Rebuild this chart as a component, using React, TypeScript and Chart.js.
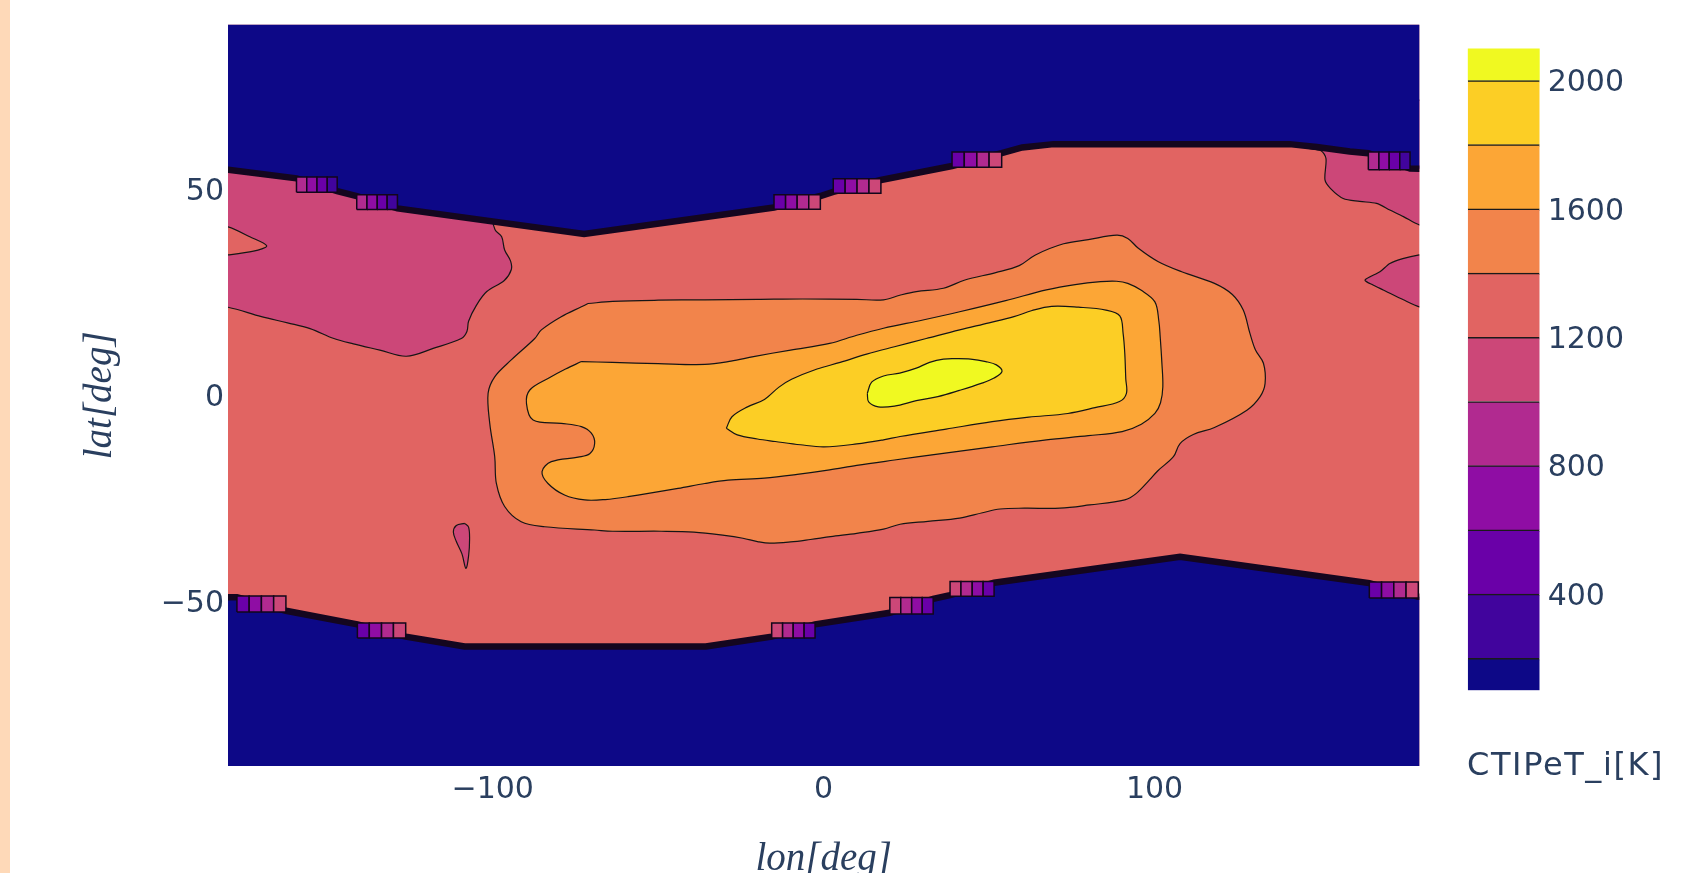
import React, { useEffect, useRef } from 'react';
import { Chart, registerables } from 'chart.js';

Chart.register(...registerables);

type Pt = [number, number];

// ---------- axes / scale values ----------
const LON_TICKS = [-100, 0, 100];
const LAT_TICKS = [-50, 0, 50];
const CBAR_TICKS = [400, 800, 1200, 1600, 2000];
const LEVELS = [100, 200, 400, 600, 800, 1000, 1200, 1400, 1600, 1800, 2000, 2100];
const BAND_COLORS = ['#0d0887', '#41049d', '#6a00a8', '#8f0da4', '#b12a90', '#cc4778', '#e16462', '#f2844b', '#fca636', '#fcce25', '#f0f921'];

// ---------- contour regions (lon, lat) ----------
const FULL_FIELD: Pt[] = [[-185, -95], [185, -95], [185, 95], [-185, 95]];

const PINK_NW: Pt[] = [
  [-185, 70], [-185, 21.6], [-180, 21.4], [-169.9, 19.1], [-162, 17.6], [-155.2, 16.2], [-148, 13.8],
  [-142.1, 12.5], [-134.1, 11.0], [-126.1, 9.5], [-118, 11.4], [-109.5, 13.8], [-107.8, 15.5],
  [-107.3, 18.0], [-104.9, 21.9], [-101.8, 25.2], [-96.5, 27.9], [-94.4, 30.5], [-94.6, 32.6],
  [-96.4, 35.3], [-97.3, 38.5], [-99.3, 40.2], [-100, 43], [-100, 70],
];
const SALMON_TONGUE: Pt[] = [
  [-185, 41.3], [-180, 40.9], [-173.4, 38.5], [-168.3, 36.3], [-172.3, 35.0], [-180, 34.1], [-185, 33.8],
];
const PINK_NE: Pt[] = [
  [145, 70], [145, 60.6], [150.3, 59.4], [151.8, 57.5], [151.5, 52.3], [153.2, 50.2], [157, 47.8],
  [162, 47.1], [167.1, 46.6], [171.1, 45.0], [175.2, 43.4], [180, 41.4], [185, 40.8], [185, 70],
];
const PINK_E: Pt[] = [
  [185, 34.5], [180, 34.1], [175, 33.2], [171.1, 32.0], [168.1, 30.0], [163.6, 28.0], [166, 26.8],
  [169.1, 25.6], [175.2, 23.2], [180, 21.5], [185, 21.0],
];
const PINK_SPOT: Pt[] = [
  [-108.5, -31.1], [-107.3, -32.0], [-107.0, -35.0], [-107.3, -39.0], [-108.1, -42.0], [-109.3, -38.5],
  [-111.0, -35.5], [-111.9, -33.2], [-111.0, -31.6],
];
const ORANGE_1400: Pt[] = [
  [-71.2, 22.3], [-63.8, 22.8], [-50, 23.1], [-35.9, 23.2], [-20, 23.3], [-6.4, 23.4], [10, 23.3],
  [18.1, 23.2], [23, 24.3], [28.0, 25.2], [36.2, 26.0], [42.7, 28.0], [52, 29.8], [59.1, 31.5],
  [64.0, 34.1], [72.5, 36.8], [80, 37.8], [88.6, 38.9], [91.9, 38.1], [95.1, 35.7], [101, 32.5],
  [108.2, 30.0], [118.1, 27.2], [123.5, 24.5], [126.8, 20.7], [128.8, 15.1], [130.5, 11], [132.9, 7.8],
  [133.4, 2.9], [131.9, -0.3], [127.9, -3.6], [118.1, -7.8], [111.7, -9.5], [107.7, -11.7], [105.7, -14.9],
  [101, -18.3], [98.4, -20.6], [94.5, -23.8], [91.0, -25.4], [80.4, -26.6], [71.4, -27.4], [60.7, -27.4],
  [53.3, -27.6], [48, -28.5], [41.1, -29.8], [31.5, -30.6], [23.1, -31.3], [18.1, -32.5], [10, -33.5],
  [2.1, -34.3], [-4, -35.0], [-10, -35.6], [-16.3, -35.9], [-20, -35.5], [-24.4, -34.7], [-30, -34.0],
  [-39.2, -33.2], [-49.1, -33.0], [-63.8, -33.0], [-69.2, -32.7], [-84.3, -31.9], [-91.4, -30.7],
  [-96.4, -27.0], [-98.9, -21.4], [-99.4, -14.9], [-100.9, -6.8], [-101.4, 0.5], [-99.4, 4.5],
  [-94.4, 8.6], [-87.3, 13.8], [-85.3, 15.9], [-79.3, 19.1], [-73.2, 21.5],
];
const ORANGE_1600: Pt[] = [
  [-73.2, 8.2], [-63.8, 8.0], [-50, 7.7], [-35.9, 7.5], [-28, 8.3], [-21.2, 9.4], [-10, 11.0], [1.8, 12.6],
  [10, 14.6], [18.1, 16.3], [30, 18.3], [41.1, 20.3], [55, 23.0], [67.3, 25.6], [76, 26.9], [83.7, 27.6],
  [88.5, 27.7], [91.9, 27.2], [96, 25.5], [100.1, 22.7], [101.3, 18], [101.7, 14.2], [102.2, 8],
  [102.5, 2.1], [101.8, -1.8], [100.1, -4.4], [96, -7.0], [90.2, -8.8], [80, -9.8], [67.3, -10.8],
  [50.9, -12.5], [35, -14.2], [21.4, -15.7], [10, -17.0], [1.8, -18.1], [-8, -19.2], [-17.9, -20.1],
  [-28.9, -20.6], [-35.9, -21.4], [-44.0, -22.6], [-59.1, -24.6], [-66, -25.3], [-72.2, -25.4],
  [-78.3, -24.2], [-83.3, -21.4], [-85.1, -18.5], [-82.3, -16.1], [-74.2, -15.0], [-70.7, -14.2],
  [-69.2, -11.7], [-70.2, -9.2], [-73.2, -7.6], [-79.3, -6.8], [-87.8, -6.0], [-89.8, -2.0],
  [-88.8, 1.3], [-83.3, 4.1], [-78, 6.4],
];
const YELLOW_1800: Pt[] = [
  [-29.4, -8.0], [-27.7, -5.2], [-23, -2.8], [-17.9, -1.0], [-13.5, 2.0], [-9.7, 3.9], [-2, 6.4], [5.0, 8.0],
  [13, 10.0], [21.4, 11.8], [31, 13.8], [41.1, 15.9], [50, 17.6], [57.5, 19.1], [63, 20.6], [68.9, 21.6],
  [77, 21.4], [85.3, 20.7], [89.5, 19.3], [90.5, 15], [91.0, 10.2], [91.3, 4], [91.5, 0.5], [89.4, -1.5],
  [82, -3.0], [73.8, -4.4], [62, -5.3], [50.9, -6.4], [37, -8.2], [23.1, -10.0], [18.1, -10.8], [10, -11.8],
  [0.1, -12.5], [-7, -12.0], [-14.6, -11.2], [-20, -10.6], [-26.1, -9.6],
];
const YELLOW_2000: Pt[] = [
  [13.2, 0.5], [14.5, 3.2], [18.1, 4.7], [23, 5.4], [28.0, 6.6], [32, 8.0], [36.2, 8.8], [40, 8.9],
  [44.4, 8.8], [49, 8.2], [52.2, 7.4], [53.9, 5.8], [51.5, 4.2], [47.6, 2.9], [41, 1.2], [34.5, -0.3],
  [28, -1.3], [21.4, -2.6], [16.5, -2.8], [13.6, -1.6],
];

// no-data caps beyond the data edge
const NORTH_CAP: Pt[] = [
  [-185, 95], [-185, 55.1], [-180, 54.8], [-159.3, 52.7], [-147.0, 49.6], [-141.1, 48.4], [-128.8, 45.4],
  [-72.4, 39.2], [-15.0, 45.6], [-1.0, 48.4], [2.9, 49.4], [17.3, 52.3], [38.8, 55.7], [53.8, 58.8],
  [60, 60.2], [69.5, 61.0], [140.8, 61.0], [149, 60.3], [159, 59.2], [164.6, 58.8], [177.2, 55.1],
  [180, 55.0], [185, 54.9], [185, 95],
];
const SOUTH_CAP: Pt[] = [
  [-185, -95], [-185, -49.0], [-177.3, -49.0], [-162.5, -52.3], [-140.9, -55.6], [-126.3, -58.6],
  [-108.5, -61.0], [-35.6, -61.0], [-15.7, -58.6], [-2.6, -55.6], [20.0, -52.8], [33.1, -49.4],
  [38.2, -48.5], [51.5, -45.5], [107.7, -39.2], [164.9, -45.6], [179.7, -48.9], [185, -49.0], [185, -95],
];

// step "stubs" along the data edge: band edges (lon), lat span, band index of each strip
const STUB_LONS: number[][] = [
  [-159.3, -156.2, -153.1, -150.0, -147.0],
  [-141.1, -138.0, -134.9, -131.9, -128.8],
  [-15.0, -11.5, -8.0, -4.5, -1.0],
  [2.9, 6.5, 10.1, 13.7, 17.3],
  [38.8, 42.5, 46.3, 50.0, 53.8],
  [164.6, 167.8, 170.9, 174.1, 177.2],
  [-177.3, -173.6, -169.9, -166.2, -162.5],
  [-140.9, -137.3, -133.6, -130.0, -126.3],
  [-15.7, -12.4, -9.2, -5.9, -2.6],
  [20.0, 23.3, 26.6, 29.8, 33.1],
  [38.2, 41.5, 44.9, 48.2, 51.5],
  [164.9, 168.6, 172.3, 176.0, 179.7],
];
const STUB_LATS: Pt[] = [
  [49.3, 53.0], [45.1, 48.7], [45.2, 48.7], [49.1, 52.6], [55.4, 59.1], [54.8, 59.1],
  [-52.6, -48.7], [-58.9, -55.3], [-58.9, -55.3], [-53.1, -49.1], [-48.8, -45.2], [-49.2, -45.3],
];
const STUB_BANDS: number[][] = [
  [4, 3, 2, 1], [4, 3, 2, 1], [2, 3, 4, 5], [2, 3, 4, 5], [2, 3, 4, 5], [4, 3, 2, 1],
  [2, 3, 4, 5], [2, 3, 4, 5], [5, 4, 3, 2], [5, 4, 3, 2], [5, 4, 3, 2], [2, 3, 4, 5],
];

const TEXT_COLOR = '#2a3f5f';
const TICK_FONT = { family: 'DejaVu Sans', size: 30 };
const MATH_FONT = { family: 'Liberation Serif', size: 39, style: 'italic' as const };

function fmt(v: number) {
  return v < 0 ? '\u2212' + Math.abs(v) : String(v);
}

function poly(pts: Pt[], band: number, lineW: number, lineColor: string, tension: number) {
  const closed = [...pts, pts[0]];
  return {
    data: closed.map(([x, y]) => ({ x, y })),
    showLine: true,
    fill: 'shape',
    backgroundColor: BAND_COLORS[band],
    borderColor: lineColor,
    borderWidth: lineW,
    tension,
    pointRadius: 0,
    pointHoverRadius: 0,
  };
}

function buildLayers() {
  const thin = '#151515';
  const layers: any[] = [
    poly(FULL_FIELD, 6, 0, thin, 0),
    poly(PINK_NW, 5, 1.2, thin, 0.35),
    poly(SALMON_TONGUE, 6, 1.2, thin, 0.3),
    poly(PINK_NE, 5, 1.2, thin, 0.3),
    poly(PINK_E, 5, 1.2, thin, 0.25),
    poly(PINK_SPOT, 5, 1.2, thin, 0.35),
    poly(ORANGE_1400, 7, 1.2, thin, 0.35),
    poly(ORANGE_1600, 8, 1.2, thin, 0.35),
    poly(YELLOW_1800, 9, 1.2, thin, 0.35),
    poly(YELLOW_2000, 10, 1.2, thin, 0.35),
    poly(NORTH_CAP, 0, 6.5, '#14061f', 0),
    poly(SOUTH_CAP, 0, 6.5, '#14061f', 0),
  ];
  STUB_LONS.forEach((lons, s) => {
    const [lo, hi] = STUB_LATS[s];
    STUB_BANDS[s].forEach((band, j) => {
      const quad: Pt[] = [[lons[j], lo], [lons[j + 1], lo], [lons[j + 1], hi], [lons[j], hi]];
      layers.push(poly(quad, band, 1.5, '#12061a', 0));
    });
  });
  const n = layers.length;
  layers.forEach((l, i) => { l.order = n - i; });
  return layers;
}

export default function App() {
  const mainRef = useRef<HTMLCanvasElement>(null);
  const cbRef = useRef<HTMLCanvasElement>(null);

  useEffect(() => {
    const main = new Chart(mainRef.current as HTMLCanvasElement, {
      type: 'scatter',
      data: { datasets: buildLayers() },
      options: {
        responsive: false,
        animation: false,
        devicePixelRatio: 1,
        events: [],
        layout: { padding: { left: 0, top: 24.7, right: 285.7, bottom: 0 } },
        plugins: { legend: { display: false }, tooltip: { enabled: false } },
        scales: {
          x: {
            type: 'linear',
            min: -180,
            max: 180,
            afterBuildTicks: (a: any) => { a.ticks = LON_TICKS.map((v) => ({ value: v })); },
            afterFit: (s: any) => { s.height = 107; },
            grid: { display: false, drawTicks: false },
            border: { display: false },
            ticks: { padding: 6.5, font: TICK_FONT, color: TEXT_COLOR, maxRotation: 0, autoSkip: false, callback: (v: any) => fmt(Number(v)) },
            title: { display: true, text: 'lon[deg]', font: MATH_FONT, color: TEXT_COLOR, padding: { top: 0, bottom: -10 } },
          },
          y: {
            type: 'linear',
            min: -90,
            max: 90,
            afterBuildTicks: (a: any) => { a.ticks = LAT_TICKS.map((v) => ({ value: v })); },
            afterFit: (s: any) => { s.width = 228; },
            grid: { display: false, drawTicks: false },
            border: { display: false },
            ticks: { padding: 4, labelOffset: 3, font: TICK_FONT, color: TEXT_COLOR, autoSkip: false, callback: (v: any) => fmt(Number(v)) },
            title: { display: true, text: 'lat[deg]', font: MATH_FONT, color: TEXT_COLOR, padding: { top: 77, bottom: 0 } },
          },
        },
      } as any,
    });

    const cbDatasets = BAND_COLORS.map((c, i) => ({
      data: [[LEVELS[i], LEVELS[i + 1]]],
      backgroundColor: c,
      borderColor: '#1a1a1a',
      borderWidth: i < BAND_COLORS.length - 1 ? { top: 1.5, bottom: 0, left: 0, right: 0 } : 0,
      borderSkipped: false,
      grouped: false,
      barPercentage: 1,
      categoryPercentage: 1,
    }));

    const cb = new Chart(cbRef.current as HTMLCanvasElement, {
      type: 'bar',
      data: { labels: [''], datasets: cbDatasets as any },
      options: {
        responsive: false,
        animation: false,
        devicePixelRatio: 1,
        events: [],
        layout: { padding: { left: 7.7, top: 48.4, right: 0, bottom: 0 } },
        plugins: { legend: { display: false }, tooltip: { enabled: false } },
        scales: {
          x: {
            grid: { display: false, drawTicks: false },
            border: { display: false },
            ticks: { display: false },
            afterFit: (s: any) => { s.height = 182.6; },
          },
          y: {
            position: 'right',
            min: 100,
            max: 2100,
            afterBuildTicks: (a: any) => { a.ticks = CBAR_TICKS.map((v) => ({ value: v })); },
            afterFit: (s: any) => { s.width = 165.3; },
            grid: { display: false, drawTicks: false },
            border: { display: false },
            ticks: { padding: 8, labelOffset: 3, font: TICK_FONT, color: TEXT_COLOR, callback: (v: any) => String(v) },
          },
        },
      } as any,
    });

    return () => { main.destroy(); cb.destroy(); };
  }, []);

  return (
    <div style={{ position: 'fixed', left: 0, top: 0, width: 1705, height: 873, background: '#ffffff', overflow: 'hidden' }}>
      <div style={{ position: 'absolute', left: 0, top: 0, width: 10, height: 873, background: '#fed9b8' }} />
      <canvas ref={mainRef} width={1705} height={873} style={{ position: 'absolute', left: 0, top: 0, width: 1705, height: 873 }} />
      <canvas ref={cbRef} width={245} height={873} style={{ position: 'absolute', left: 1460, top: 0, width: 245, height: 873 }} />
      <div style={{ position: 'absolute', left: 1467, top: 748, fontFamily: 'DejaVu Sans', fontSize: 32, lineHeight: '32px', letterSpacing: '1.6px', color: TEXT_COLOR, whiteSpace: 'nowrap' }}>CTIPeT_i[K]</div>
    </div>
  );
}
